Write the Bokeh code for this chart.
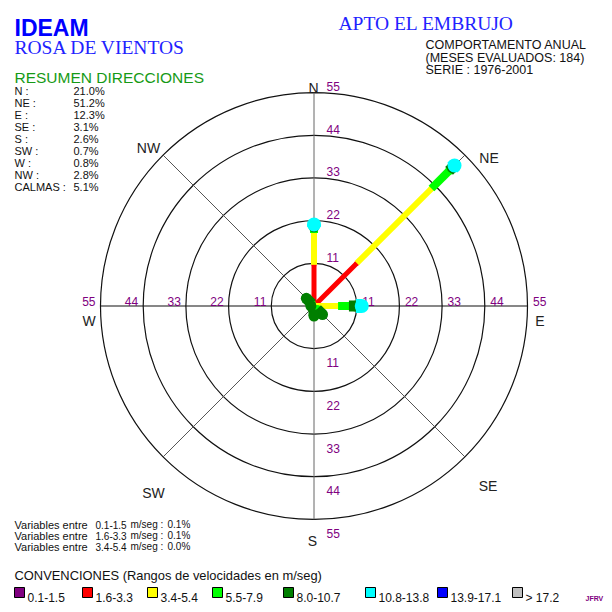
import numpy as np
from bokeh.plotting import figure
from bokeh.models import Range1d
from bokeh.core.properties import value
from bokeh.embed import file_html
from bokeh.resources import INLINE

# ---------------- data ----------------
directions = ["N", "NE", "E", "SE", "S", "SW", "W", "NW"]
dir_angles = [90, 45, 0, -45, -90, -135, 180, 135]
classes = ["0.1-1.5", "1.6-3.3", "3.4-5.4", "5.5-7.9", "8.0-10.7", "10.8-13.8", "13.9-17.1", "> 17.2"]
class_colors = ["#800080", "#FF0000", "#FFFF00", "#00FF00", "#007F00", "#00FFFF", "#0000FF", "#C0C0C0"]
# frequency (%) by speed class for each direction
freq_N = [0.0, 10.6, 8.2, 1.3, 0.3, 0.6, 0.0, 0.0]
freq_NE = [0.0, 15.6, 27.2, 6.4, 1.2, 0.8, 0.0, 0.0]
freq_E = [0.0, 0.5, 5.7, 2.8, 1.8, 1.5, 0.0, 0.0]
freq_SE = [0.0, 0.2, 0.6, 0.3, 2.0, 0.0, 0.0, 0.0]
freq_S = [0.0, 0.2, 0.5, 0.2, 1.7, 0.0, 0.0, 0.0]
freq_SW = [0.0, 0.2, 0.3, 0.2, 0.0, 0.0, 0.0, 0.0]
freq_W = [0.0, 0.2, 0.3, 0.1, 0.2, 0.0, 0.0, 0.0]
freq_NW = [0.0, 0.2, 0.4, 0.2, 2.0, 0.0, 0.0, 0.0]
totals = [21.0, 51.2, 12.3, 3.1, 2.6, 0.7, 0.8, 2.8]
calmas = 5.1
rings = [11, 22, 33, 44, 55]
var_ranges = ["0.1-1.5", "1.6-3.3", "3.4-5.4"]
var_values = [0.1, 0.1, 0.0]

# ---------------- layout helpers ----------------
CX, CY = 313.5, 305.5
K = 213.5 / 55.0
W = 604


def px(x):
    return (x - CX) / K


def py(y):
    return (CY - y) / K


p = figure(width=W, height=W, x_range=Range1d(px(0), px(W)), y_range=Range1d(py(W), py(0)),
           output_backend="svg", toolbar_location=None, min_border=0, outline_line_color=None,
           x_axis_location=None, y_axis_location=None)
p.grid.visible = False
p.background_fill_color = "white"
p.border_fill_color = "white"

SANS = "Liberation Sans"
SERIF = "Liberation Serif"


def txt(xs, ys, texts, size, color="#1a1a1a", font=SANS, align="left", style="normal"):
    p.text(x=[px(v) for v in xs], y=[py(v) for v in ys], text=texts,
           text_font=value(font), text_font_size=f"{size}px", text_color=color,
           text_align=align, text_baseline="alphabetic", text_font_style=style)


# ---------------- grid ----------------
R = rings[-1]
p.circle(x=[0] * len(rings), y=[0] * len(rings), radius=rings, fill_color=None,
         line_color="#111111", line_width=1.2)
d = R * np.cos(np.pi / 4)
p.segment(x0=[-d, -d], y0=[d, -d], x1=[d, d], y1=[-d, d], line_color="#555555", line_width=1)
p.segment(x0=[0], y0=[-R], x1=[0], y1=[R], line_color="#666666", line_width=1)
p.segment(x0=[-R], y0=[0], x1=[R], y1=[0], line_color="#111111", line_width=1.2)

# ring labels
LAB = "#800080"
rr = np.array(rings, dtype=float)
lab_kw = dict(text_font=value(SANS), text_font_size="12px", text_color=LAB, text_baseline="alphabetic")
p.text(x=[12.5 / K] * len(rings), y=list(rr + 6 / K), text=[str(r) for r in rings], **lab_kw)
p.text(x=[12.5 / K] * len(rings), y=list(-(rr + 14 / K)), text=[str(r) for r in rings], **lab_kw)
p.text(x=list(-(rr + 5 / K)), y=[5 / K] * len(rings), text=[str(r) for r in rings],
       text_align="right", **lab_kw)
p.text(x=list(rr + 5.5 / K), y=[5 / K] * len(rings), text=[str(r) for r in rings], **lab_kw)

# direction labels
dir_lx = [313, 488.5, 539.5, 487.5, 312, 153, 88.5, 148]
dir_ly = [87.5, 157, 320.5, 485, 540.5, 492, 320.5, 147]
txt(dir_lx, dir_ly, directions, 14, color="#222222", align="center")

# ---------------- rose ----------------
freqs = np.array([freq_N, freq_NE, freq_E, freq_SE, freq_S, freq_SW, freq_W, freq_NW])
cum = np.cumsum(freqs, axis=1)
start = cum - freqs
ang = np.radians(dir_angles)
cos_a, sin_a = np.cos(ang), np.sin(ang)
class_widths = [4, 5, 6, 8, 11, 14, 15, 16]
for c in range(len(classes)):
    m = freqs[:, c] > 0
    if not m.any():
        continue
    s0 = start[m, c]
    s1 = cum[m, c]
    x0 = s0 * cos_a[m]
    y0 = s0 * sin_a[m]
    x1 = s1 * cos_a[m]
    y1 = s1 * sin_a[m]
    p.segment(x0=x0, y0=y0, x1=x1, y1=y1, line_color=class_colors[c],
              line_width=class_widths[c], line_cap="butt")
    p.scatter(x=x1, y=y1, marker="circle", size=class_widths[c],
              fill_color=class_colors[c], line_color=None)

# ---------------- titles ----------------
txt([14], [27], ["IDEAM"], 23, color="#0000FF", style="bold")
txt([14], [47], ["ROSA DE VIENTOS"], 19.5, color="#2222FF", font=SERIF)
txt([14], [77], ["RESUMEN DIRECCIONES"], 15.5, color="#169A16")
txt([338], [22.5], ["APTO EL EMBRUJO"], 19.5, color="#2222FF", font=SERIF)
txt([425, 425, 425], [44.5, 57, 69.5],
    ["COMPORTAMENTO ANUAL", "(MESES EVALUADOS: 184)", "SERIE : 1976-2001"], 12.5, color="#111111")

# summary table
row_labels = [f"{dname} :" for dname in directions] + ["CALMAS :"]
row_values = [f"{v:.1f}%" for v in totals] + [f"{calmas:.1f}%"]
ys = [90 + 12.1 * i for i in range(len(row_labels))]
txt([14] * len(row_labels), ys, row_labels, 11, color="#111111")
txt([73] * len(row_values), ys, row_values, 11, color="#111111")

# variable lines
vy = [524, 535, 546]
txt([14] * 3, vy, ["Variables entre"] * 3, 11, color="#111111")
txt([95] * 3, vy, var_ranges, 10, color="#111111")
txt([130] * 3, vy, ["m/seg :"] * 3, 10, color="#111111")
txt([167] * 3, vy, [f"{v:.1f}%" for v in var_values], 10, color="#111111")

# legend
txt([14], [575], ["CONVENCIONES (Rangos de velocidades en m/seg)"], 12.9, color="#111111")
sq_x = [14, 82, 147, 212, 283, 365, 437, 512]
p.rect(x=[px(v + 5) for v in sq_x], y=[py(592)] * len(sq_x), width=10, height=10,
       width_units="screen", height_units="screen", fill_color=class_colors,
       line_color="#000000", line_width=1)
txt([v + 13 for v in sq_x], [597] * len(sq_x), classes, 12, color="#111111")
txt([585], [598], ["JFRV"], 7, color="#800080", style="bold")

open("out.html", "w").write(file_html(p, INLINE))
